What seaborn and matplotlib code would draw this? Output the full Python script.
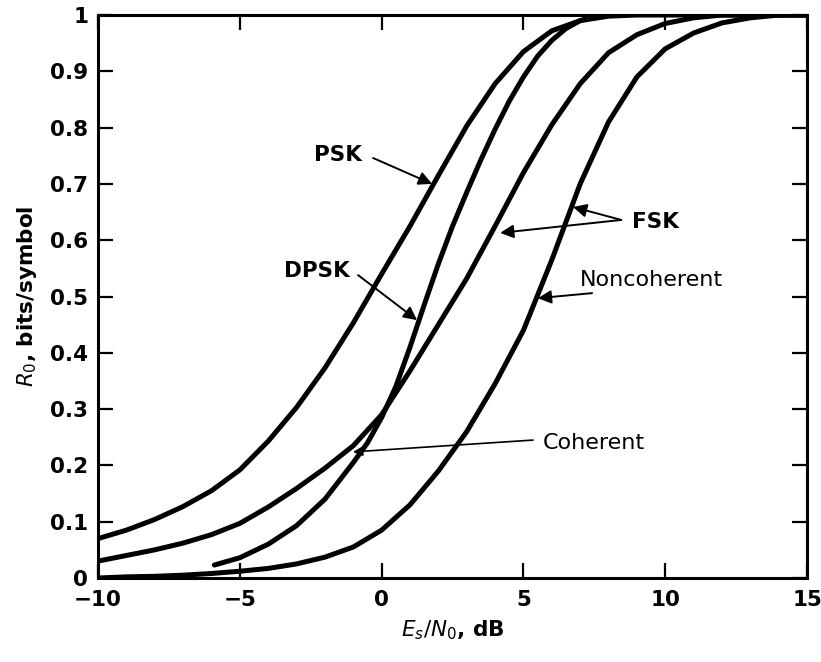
import matplotlib
matplotlib.use("Agg")
import matplotlib.pyplot as plt
import seaborn as sns
import pandas as pd

# ---- data ----
psk_x = [-10, -9, -8, -7, -6, -5, -4, -3, -2, -1, 0, 1, 2, 3, 4, 5, 6, 7, 8, 9, 15]
psk_y = [0.07, 0.085, 0.104, 0.127, 0.155, 0.192, 0.243, 0.303, 0.373, 0.453, 0.54, 0.625,
         0.715, 0.803, 0.878, 0.935, 0.972, 0.99, 0.998, 1.0, 1.0]

cfsk_x = [-10, -9, -8, -7, -6, -5, -4, -3, -2, -1, 0, 1, 2, 3, 4, 5, 6, 7, 8, 9, 10, 11, 12, 15]
cfsk_y = [0.03, 0.04, 0.05, 0.062, 0.077, 0.097, 0.126, 0.159, 0.195, 0.235, 0.29, 0.368,
          0.45, 0.532, 0.625, 0.72, 0.805, 0.878, 0.933, 0.965, 0.985, 0.995, 1.0, 1.0]

dpsk_x = [-5.9, -5, -4, -3, -2, -1, -0.5, 0, 0.5, 1, 1.5, 2, 2.5, 3, 3.5, 4, 4.5, 5, 5.5, 6, 6.5, 7, 7.5]
dpsk_y = [0.023, 0.036, 0.06, 0.093, 0.14, 0.205, 0.24, 0.285, 0.34, 0.41, 0.485, 0.558,
          0.625, 0.685, 0.743, 0.797, 0.847, 0.89, 0.927, 0.955, 0.976, 0.99, 0.998]

nfsk_x = [-10, -9, -8, -7, -6, -5, -4, -3, -2, -1, 0, 1, 2, 3, 4, 5, 6, 7, 8, 9, 10, 11, 12, 13, 14, 15]
nfsk_y = [0.0, 0.002, 0.003, 0.005, 0.008, 0.012, 0.017, 0.025, 0.037, 0.055, 0.085, 0.13,
          0.19, 0.26, 0.345, 0.44, 0.565, 0.70, 0.81, 0.89, 0.94, 0.968, 0.986, 0.995, 1.0, 1.0]

x_ticks = [-10, -5, 0, 5, 10, 15]
x_tick_labels = ["\u221210", "\u22125", "0", "5", "10", "15"]
y_ticks = [0, 0.1, 0.2, 0.3, 0.4, 0.5, 0.6, 0.7, 0.8, 0.9, 1.0]
y_tick_labels = ["0", "0.1", "0.2", "0.3", "0.4", "0.5", "0.6", "0.7", "0.8", "0.9", "1"]

series = {
    "PSK": (psk_x, psk_y),
    "Coherent FSK": (cfsk_x, cfsk_y),
    "DPSK": (dpsk_x, dpsk_y),
    "Noncoherent FSK": (nfsk_x, nfsk_y),
}
frames = []
for name, (xs, ys) in series.items():
    frames.append(pd.DataFrame({"x": xs, "y": ys, "curve": name}))
df = pd.concat(frames, ignore_index=True)

sns.set_theme(style="ticks")
plt.rcParams["font.family"] = ["DejaVu Sans"]
plt.rcParams["mathtext.fontset"] = "dejavusans"
plt.rcParams["text.color"] = "black"
plt.rcParams["axes.labelcolor"] = "black"

fig = plt.figure(figsize=(8.21, 6.62), dpi=100)
ax = fig.add_axes([0.1194, 0.1269, 0.8636, 0.8504])

for name in series:
    sub = df[df["curve"] == name]
    sns.lineplot(data=sub, x="x", y="y", ax=ax, color="black", linewidth=3.6,
                 estimator=None, sort=False, legend=False)
for ln in ax.lines:
    ln.set_solid_joinstyle("round")
    ln.set_solid_capstyle("round")

ax.set_xlim(-10, 15)
ax.set_ylim(0, 1)
ax.set_xticks(x_ticks)
ax.set_xticklabels(x_tick_labels, fontsize=15.5, fontweight="bold")
ax.set_yticks(y_ticks)
ax.set_yticklabels(y_tick_labels, fontsize=15.5, fontweight="bold")
ax.tick_params(axis="both", which="both", direction="in", length=11, width=1.6,
               color="black", labelcolor="black", top=True, right=True)
ax.tick_params(axis="x", pad=9)
ax.tick_params(axis="y", pad=7)
for s in ax.spines.values():
    s.set_visible(True)
    s.set_linewidth(2.2)
    s.set_color("black")

ax.set_xlabel(r"$\mathit{E_s/N_0}$, dB", fontsize=15.5, fontweight="bold", labelpad=6)
ax.set_ylabel(r"$\mathit{R_0}$, bits/symbol", fontsize=15.5, fontweight="bold", labelpad=8)

arrow = dict(arrowstyle="-|>", color="black", lw=1.4, mutation_scale=20, shrinkA=0, shrinkB=0)

# labels
ax.text(-0.69, 0.751, "PSK", fontsize=15.5, fontweight="bold", ha="right", va="center", color="black")
ax.annotate("", xy=(1.78, 0.70), xytext=(-0.30, 0.746), arrowprops=arrow)

ax.text(-1.11, 0.545, "DPSK", fontsize=15.5, fontweight="bold", ha="right", va="center", color="black")
ax.annotate("", xy=(1.25, 0.458), xytext=(-0.83, 0.538), arrowprops=arrow)

ax.text(8.83, 0.632, "FSK", fontsize=15.5, fontweight="bold", ha="left", va="center", color="black")
ax.annotate("", xy=(4.18, 0.613), xytext=(8.45, 0.636), arrowprops=arrow)
ax.annotate("", xy=(6.75, 0.659), xytext=(8.45, 0.636), arrowprops=arrow)

ax.text(7.0, 0.529, "Noncoherent", fontsize=16, ha="left", va="center", color="black")
ax.annotate("", xy=(5.51, 0.497), xytext=(7.42, 0.506), arrowprops=arrow)

ax.text(5.69, 0.240, "Coherent", fontsize=16, ha="left", va="center", color="black")
ax.annotate("", xy=(-1.01, 0.224), xytext=(5.34, 0.245),
            arrowprops=dict(arrowstyle="-|>", color="black", lw=1.2,
                            mutation_scale=14, shrinkA=0, shrinkB=0))

fig.savefig("out.png", dpi=100)
